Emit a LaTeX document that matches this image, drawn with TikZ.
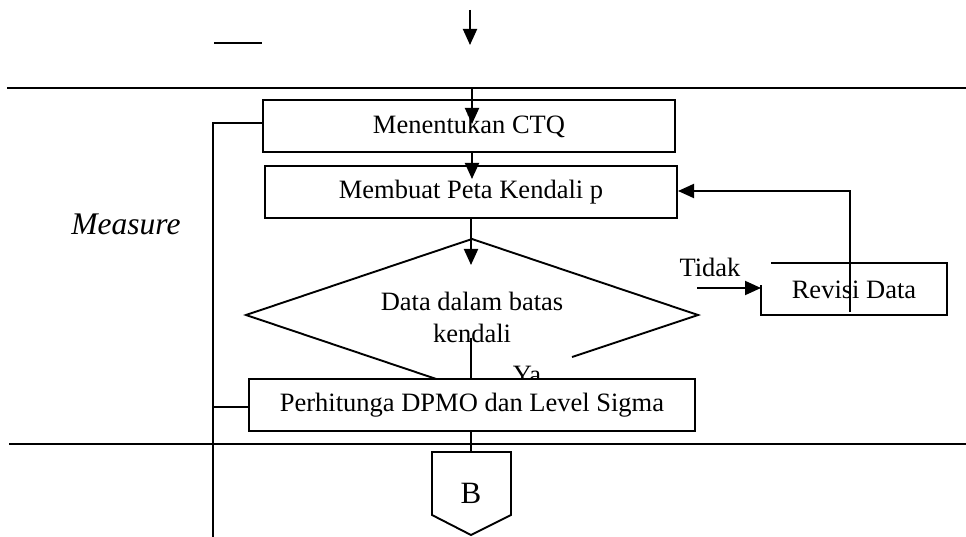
\documentclass[tikz,border=0pt]{standalone}
\usepackage{fontspec}
\setmainfont{Liberation Serif}
\usetikzlibrary{arrows.meta}
\begin{document}
\begin{tikzpicture}[x=1pt,y=-1pt,
  ln/.style={line width=1.9pt, line cap=butt},
  arr/.style={ln, -{Triangle[length=16pt,width=14pt]}},
  stepbox/.style={draw, line width=1.9pt, fill=white, inner sep=0pt,
    minimum height=52pt, font=\fontsize{26.5}{30}\selectfont},
  lbl/.style={font=\fontsize{26.5}{32}\selectfont, inner sep=0pt}]
\useasboundingbox (0,0) rectangle (966,537);

% phase separators
\coordinate (sepAL) at (7,88);   \coordinate (sepAR) at (966,88);
\coordinate (sepBL) at (9,444);  \coordinate (sepBR) at (966,444);
\draw[ln] (sepAL) -- (sepAR);
\draw[ln] (sepBL) -- (sepBR);

% incoming flow from the previous phase
\coordinate (inTop) at (470,10); \coordinate (inTip) at (470,45);
\draw[arr] (inTop) -- (inTip);
\coordinate (dashL) at (214,43); \coordinate (dashR) at (262,43);
\draw[ln] (dashL) -- (dashR);

% phase label
\node[font=\fontsize{31.5}{34}\selectfont\itshape, inner sep=0pt, anchor=base] (phase) at (126,235) {Measure};

% process steps
\node[stepbox, minimum width=412pt] (ctq) at (469,126) {Menentukan CTQ};
\node[stepbox, minimum width=412pt] (peta) at (471,192) {Membuat Peta Kendali p};

% decision (lower part hidden behind the next step)
\coordinate (dT) at (472,239);
\coordinate (dL) at (246,315);
\coordinate (dR) at (698,315);
\coordinate (dB) at (472,391);
\coordinate (dRend) at (572,357);
\draw[ln] (dRend) -- (dR) -- (dT) -- (dL) -- (dB);
\node[lbl, align=center] (dtext) at (472,317) {Data dalam batas\\kendali};
\node[lbl, anchor=base] (ya) at (527,383) {Ya};

\coordinate (ctqIn) at (472,88);
\coordinate (ctqTip) at (472,124);
\draw[arr] (ctqIn) -- (ctqTip);
\coordinate (petaTip) at (472,179);
\draw[arr] (ctq.south -| petaTip) -- (petaTip);
\coordinate (dTip) at (471,265);
\draw[arr] (peta.south -| dTip) -- (dTip);
\coordinate (yaTop) at (471,338);
\coordinate (yaBot) at (471,380);
\draw[ln] (yaTop) -- (yaBot);

\node[stepbox, minimum width=446pt] (dpmo) at (472,405) {Perhitunga DPMO dan Level Sigma};

% off-page connector
\draw[ln] (432,452) coordinate (pTL) -- (511,452) -- (511,515) -- (471,535) -- (432,515) -- cycle;
\node[font=\fontsize{31}{34}\selectfont, inner sep=0pt, anchor=base] (bconn) at (471,503) {B};
\coordinate (pTop) at (471,452);
\draw[ln] (dpmo.south -| pTop) -- (pTop);

% rejection branch
\node[lbl] (tidak) at (710,267) {Tidak};
\draw[ln] (771,263) -- (947,263) -- (947,315) -- (761,315) -- (761,285);
\node[lbl] (revisi) at (854,290) {Revisi Data};
\coordinate (tStart) at (697,288); \coordinate (tEnd) at (761,288);
\draw[arr] (tStart) -- (tEnd);
\coordinate (fbStart) at (850,312);
\coordinate (fbCorner) at (850,191);
\coordinate (fbTip) at (678,191);
\draw[arr] (fbStart) -- (fbCorner) -- (fbTip);

% side bracket for the phase
\coordinate (brBot) at (213,537);
\coordinate (brTop) at (213,123);
\draw[ln] (brBot) -- (brTop) -- (ctq.west |- brTop);
\coordinate (brMid) at (213,407);
\draw[ln] (brMid) -- (dpmo.west |- brMid);
\end{tikzpicture}
\end{document}
